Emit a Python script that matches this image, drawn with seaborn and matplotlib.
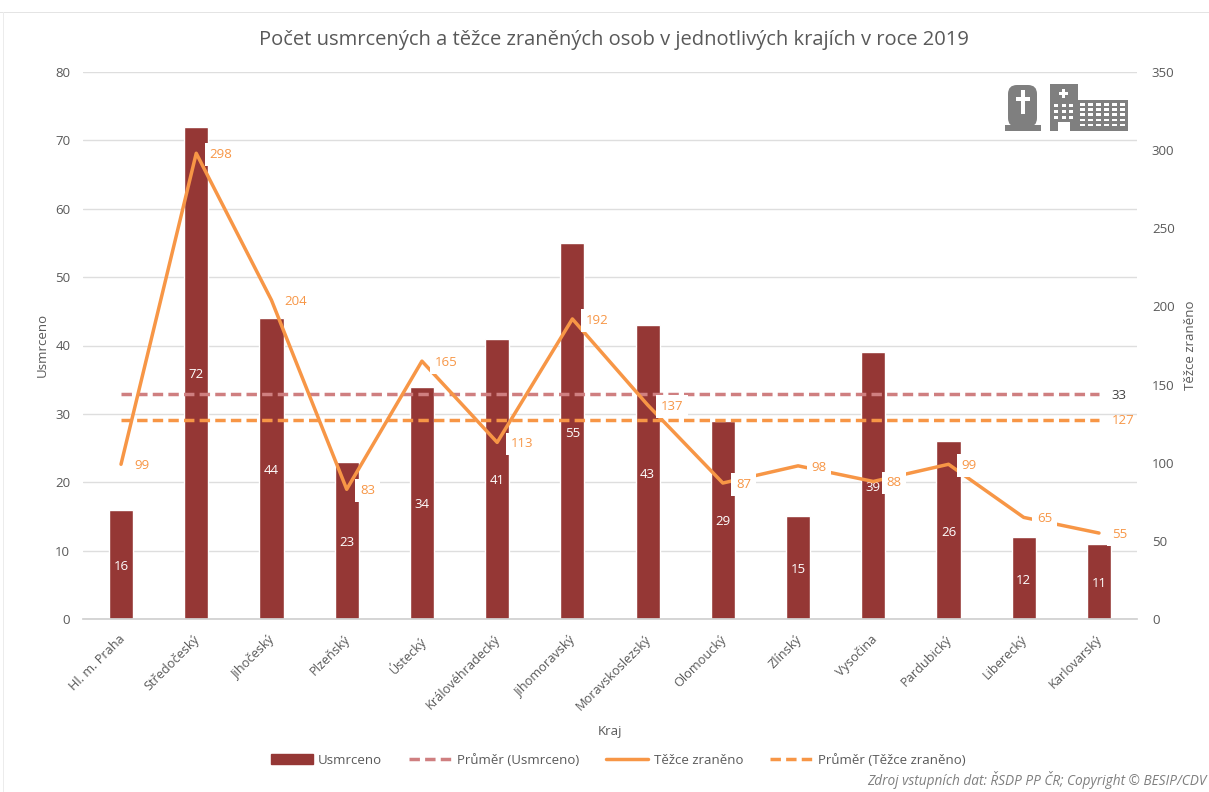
import matplotlib
matplotlib.use("Agg")
import matplotlib.pyplot as plt
from matplotlib.patches import Rectangle, FancyBboxPatch
from matplotlib.transforms import ScaledTranslation
import pandas as pd
import seaborn as sns

kraje = ["Hl. m. Praha", "Středočeský", "Jihočeský", "Plzeňský", "Ústecký", "Královéhradecký", "Jihomoravský",
         "Moravskoslezský", "Olomoucký", "Zlínský", "Vysočina", "Pardubický", "Liberecký", "Karlovarský"]
usmrceno = [16, 72, 44, 23, 34, 41, 55, 43, 29, 15, 39, 26, 12, 11]
tezce_zraneno = [99, 298, 204, 83, 165, 113, 192, 137, 87, 98, 88, 99, 65, 55]
prumer_usmrceno = [32.86] * 14
prumer_tezce = [127.36] * 14

BAR = "#953735"
MEAN_RED = "#CF7F80"
ORANGE = "#F79646"
TEXT = "#595959"
GRID = "#DEDEDE"
FS = 9.5

sns.set_theme(style="white")
plt.rcParams["font.family"] = ["Open Sans", "DejaVu Sans"]

df = pd.DataFrame({"kraj": kraje, "usmrceno": usmrceno, "tezce": tezce_zraneno,
                   "prumer_u": prumer_usmrceno, "prumer_t": prumer_tezce})

W, H = 1209, 792
fig = plt.figure(figsize=(W / 100, H / 100), dpi=100)
ax = fig.add_axes([83.4 / W, 1 - 619 / H, (1136.6 - 83.4) / W, (619 - 72) / H])

sns.barplot(data=df, x="kraj", y="usmrceno", color=BAR, saturation=1, width=0.32, errorbar=None, ax=ax, zorder=2)
for t in ax.bar_label(ax.containers[0], label_type="center", color="white", fontsize=FS, zorder=3):
    t.xyann = (0, -1.5)
sns.lineplot(data=df, x="kraj", y="prumer_u", color=MEAN_RED, lw=2.5, ls=(0, (3, 1.5)), errorbar=None, ax=ax, zorder=3)

ax.set_ylim(0, 80)
ax.set_yticks(range(0, 81, 10))
ax.set_xlim(-0.5, 13.5)
ax.yaxis.grid(True, color=GRID, lw=1)
ax.set_axisbelow(True)
ax.tick_params(axis="y", length=0, labelsize=FS, labelcolor=TEXT, pad=9.5)
ax.tick_params(axis="x", length=0, labelsize=9.2, labelcolor=TEXT, pad=10)
shift = ScaledTranslation(-3 / 100, 0, fig.dpi_scale_trans)
for lab in ax.get_xticklabels():
    lab.set_rotation(45)
    lab.set_ha("right")
    lab.set_rotation_mode("anchor")
    lab.set_transform(lab.get_transform() + shift)
for s in ["top", "left", "right"]:
    ax.spines[s].set_visible(False)
ax.spines["bottom"].set_color("#D0D0D0")
ax.set_xlabel("")
ax.set_ylabel("")

ax2 = ax.twinx()
ax2.set_zorder(ax.get_zorder() + 1)
sns.lineplot(data=df, x="kraj", y="prumer_t", color=ORANGE, lw=2.5, ls=(0, (3, 1.5)), errorbar=None, ax=ax2)
sns.lineplot(data=df, x="kraj", y="tezce", color=ORANGE, lw=2.5, sort=False, errorbar=None, ax=ax2)
ax2.set_ylim(0, 350)
ax2.set_yticks(range(0, 351, 50))
ax2.set_xlim(-0.5, 13.5)
ax2.tick_params(axis="y", length=0, labelsize=FS, labelcolor=TEXT, pad=11)
ax2.grid(False)
for s in ax2.spines.values():
    s.set_visible(False)
ax2.set_xlabel("")
ax2.set_ylabel("")

for i, v in enumerate(tezce_zraneno):
    ax2.annotate(str(v), (i, v), xytext=(9.5, -1), textcoords="offset points", color=ORANGE, fontsize=FS,
                 va="center", ha="left", bbox=dict(fc="white", ec="none", pad=3.4))

ax.annotate(f"{prumer_usmrceno[-1]:.0f}", (13, prumer_usmrceno[-1]), xytext=(9, -0.5), textcoords="offset points",
            color="#404040", fontsize=FS, va="center")
ax2.annotate(f"{prumer_tezce[-1]:.0f}", (13, prumer_tezce[-1]), xytext=(9, -0.5), textcoords="offset points",
             color=ORANGE, fontsize=FS, va="center")

fig.text(614 / W, 1 - 40 / H, "Počet usmrcených a těžce zraněných osob v jednotlivých krajích v roce 2019",
         ha="center", va="center", fontsize=14.5, color=TEXT)
fig.text(42 / W, 1 - 345 / H, "Usmrceno", rotation=90, ha="center", va="center", fontsize=FS, color=TEXT)
fig.text(1190 / W, 1 - 345 / H, "Těžce zraněno", rotation=90, ha="center", va="center", fontsize=FS, color=TEXT)
fig.text(610 / W, 1 - 731 / H, "Kraj", ha="center", va="center", fontsize=FS, color=TEXT)
fig.text(1207 / W, 1 - 780 / H, "Zdroj vstupních dat: ŘSDP PP ČR; Copyright © BESIP/CDV", ha="right", va="center",
         fontsize=9.8, style="italic", color="#7F7F7F")

# legenda - stejne poradi jako v originale
h_bar = Rectangle((0, 0), 1, 1, color=BAR)
h_u = ax.lines[-1]
h_t = ax2.lines[0]
h_l = ax2.lines[1]
fig.legend([h_bar, h_u, h_l, h_t], ["Usmrceno", "Průměr (Usmrceno)", "Těžce zraněno", "Průměr (Těžce zraněno)"],
           ncol=4, loc="center", bbox_to_anchor=(618 / W, 1 - 760 / H), frameon=False, fontsize=FS,
           labelcolor=TEXT, handlelength=3.2, handletextpad=0.4, columnspacing=2.05)

# ikony vpravo nahore (hrob a nemocnice)
icon = fig.add_axes([0, 0, 1, 1], zorder=5)
icon.set_xlim(0, W)
icon.set_ylim(H, 0)
icon.axis("off")
GREY = "#7F7F7F"
icon.add_patch(FancyBboxPatch((1008, 85), 29, 42, boxstyle="round,pad=0,rounding_size=9", fc=GREY, ec="none"))
icon.add_patch(Rectangle((1005, 125), 36, 6, fc=GREY, ec="none"))
icon.add_patch(Rectangle((1021, 90), 4, 24, fc="white", ec="none"))
icon.add_patch(Rectangle((1016, 97), 14, 4, fc="white", ec="none"))
icon.add_patch(Rectangle((1050, 84), 28, 47, fc=GREY, ec="none"))
icon.add_patch(Rectangle((1078, 100), 50, 31, fc=GREY, ec="none"))
icon.add_patch(Rectangle((1062, 89), 3, 9, fc="white", ec="none"))
icon.add_patch(Rectangle((1059, 92), 9, 3, fc="white", ec="none"))
for r in range(3):
    for c in range(3):
        icon.add_patch(Rectangle((1054 + c * 7.5, 104 + r * 6), 4, 3, fc="white", ec="none"))
icon.add_patch(Rectangle((1058, 122), 12, 9, fc="white", ec="none"))
for r in range(5):
    for c in range(6):
        icon.add_patch(Rectangle((1080 + c * 8, 103 + r * 5.2), 5, 2.6, fc="white", ec="none"))
icon.add_patch(Rectangle((0, 12), W, 1, fc="#E4E4E4", ec="none"))
icon.add_patch(Rectangle((3, 12), 1, H, fc="#ECECEC", ec="none"))

fig.savefig("out.png", dpi=100)
